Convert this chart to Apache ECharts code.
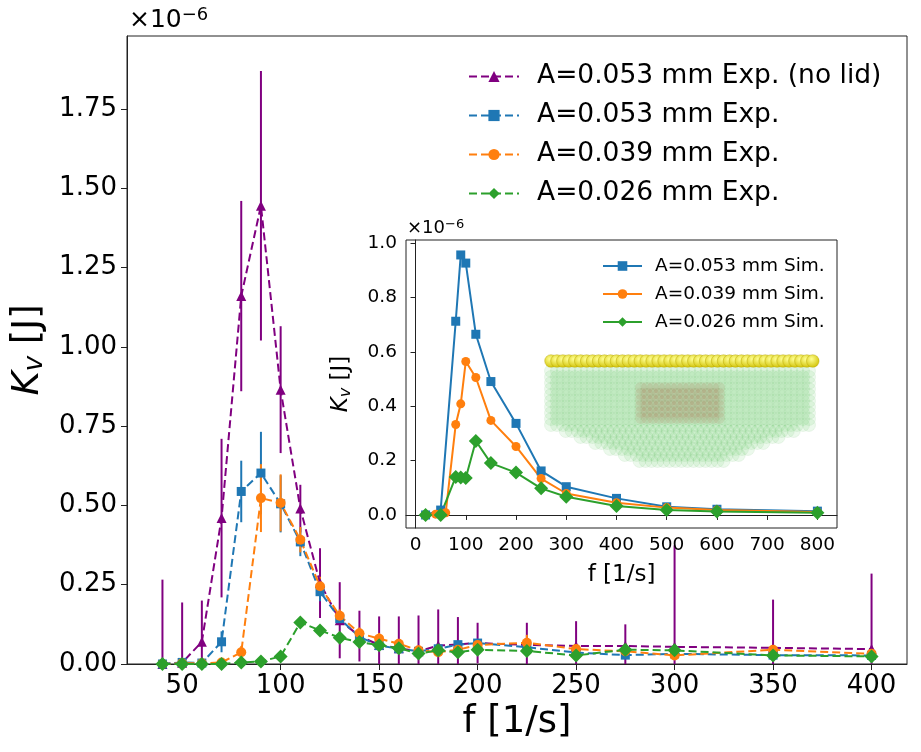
<!DOCTYPE html>
<html>
<head>
<meta charset="utf-8">
<script src="https://cdn.jsdelivr.net/npm/echarts@6/dist/echarts.min.js"></script>
<style>
  html, body { margin: 0; padding: 0; background: #fff; }
  #chart { width: 921px; height: 752px; }
</style>
</head>
<body>
<div id="chart"></div>
<script>
// all energies are in units of 1e-6 J
var freqExp = [40, 50, 60, 70, 80, 90, 100, 110, 120, 130, 140, 150, 160, 170, 180, 190, 200, 225, 250, 275, 300, 350, 400];

var noLidVal = [0, 0.004, 0.07, 0.46, 1.16, 1.445, 0.865, 0.49, 0.255, 0.138, 0.088, 0.06, 0.05, 0.04, 0.058, 0.062, 0.066, 0.06, 0.057, 0.057, 0.054, 0.051, 0.047];
var noLidErr = [0.266, 0.19, 0.13, 0.25, 0.3, 0.425, 0.2, 0.075, 0.11, 0.12, 0.08, 0.09, 0.1, 0.113, 0.114, 0.086, 0.064, 0.07, 0.078, 0.068, 0.32, 0.152, 0.238];

var exp053Val = [0, 0.005, 0.003, 0.07, 0.544, 0.602, 0.505, 0.385, 0.228, 0.143, 0.085, 0.058, 0.048, 0.04, 0.048, 0.061, 0.066, 0.053, 0.036, 0.028, 0.032, 0.028, 0.027];
var exp053Err = [0.004, 0.004, 0.004, 0.033, 0.097, 0.13, 0.09, 0.045, 0.03, 0.02, 0.015, 0.015, 0.012, 0.012, 0.012, 0.012, 0.012, 0.012, 0.01, 0.01, 0.01, 0.01, 0.01];

var exp039Val = [0, 0.002, 0.002, 0.005, 0.037, 0.523, 0.508, 0.392, 0.245, 0.152, 0.097, 0.08, 0.064, 0.043, 0.037, 0.045, 0.06, 0.067, 0.047, 0.04, 0.027, 0.045, 0.032];
var exp039Err = [0.003, 0.003, 0.003, 0.005, 0.02, 0.107, 0.09, 0.04, 0.03, 0.02, 0.018, 0.018, 0.015, 0.015, 0.015, 0.015, 0.015, 0.025, 0.015, 0.012, 0.012, 0.012, 0.012];

var exp026Val = [0, 0, 0, 0, 0.005, 0.008, 0.024, 0.131, 0.106, 0.083, 0.069, 0.059, 0.05, 0.033, 0.043, 0.037, 0.045, 0.041, 0.027, 0.045, 0.043, 0.027, 0.024];
var exp026Err = [0.003, 0.003, 0.003, 0.003, 0.005, 0.005, 0.008, 0.015, 0.015, 0.015, 0.015, 0.012, 0.012, 0.012, 0.012, 0.012, 0.012, 0.012, 0.01, 0.01, 0.01, 0.01, 0.01];

// inset: simulations
var freqSim053 = [20, 50, 80, 90, 100, 120, 150, 200, 250, 300, 400, 500, 600, 800];
var sim053 = [0, 0.018, 0.713, 0.957, 0.927, 0.665, 0.491, 0.337, 0.162, 0.104, 0.061, 0.03, 0.021, 0.014];
var freqSim039 = [20, 40, 60, 80, 90, 100, 120, 150, 200, 250, 300, 400, 500, 600, 800];
var sim039 = [0, 0.003, 0.008, 0.333, 0.409, 0.565, 0.506, 0.348, 0.252, 0.134, 0.079, 0.045, 0.027, 0.018, 0.011];
var freqSim026 = [20, 50, 80, 90, 100, 120, 150, 200, 250, 300, 400, 500, 600, 800];
var sim026 = [0, 0, 0.14, 0.138, 0.136, 0.272, 0.191, 0.156, 0.098, 0.067, 0.033, 0.018, 0.013, 0.008];

var mainXTicks = [50, 100, 150, 200, 250, 300, 350, 400];
var mainYTicks = [0, 0.25, 0.5, 0.75, 1.0, 1.25, 1.5, 1.75];
var insetXTicks = [0, 100, 200, 300, 400, 500, 600, 700, 800];
var insetYTicks = [0, 0.2, 0.4, 0.6, 0.8, 1.0];

var FONT = 'DejaVu Sans';
var PURPLE = '#800080', BLUE = '#1f77b4', ORANGE = '#ff7f0e', GREEN = '#2ca02c';

function pairs(xs, ys) {
  return xs.map(function (x, i) { return [x, ys[i]]; });
}

// vertical error bars drawn through the axes' own coordinates
function errorBars(color, xs, ys, es) {
  return {
    type: 'custom',
    name: 'err',
    xAxisIndex: 0,
    yAxisIndex: 0,
    clip: true,
    z: 2,
    data: xs.map(function (x, i) { return [x, ys[i], es[i]]; }),
    encode: { x: 0, y: 1 },
    renderItem: function (params, api) {
      var lo = api.coord([api.value(0), api.value(1) - api.value(2)]);
      var hi = api.coord([api.value(0), api.value(1) + api.value(2)]);
      return {
        type: 'line',
        shape: { x1: lo[0], y1: lo[1], x2: hi[0], y2: hi[1] },
        style: { stroke: color, lineWidth: 2 }
      };
    }
  };
}

function expLine(name, color, symbol, size, ys) {
  return {
    type: 'line',
    name: name,
    xAxisIndex: 0,
    yAxisIndex: 0,
    data: pairs(freqExp, ys),
    symbol: symbol,
    symbolSize: size,
    z: 3,
    lineStyle: { color: color, width: 2, type: [8, 4] },
    itemStyle: { color: color }
  };
}

function simLine(name, color, symbol, size, xs, ys) {
  return {
    type: 'line',
    name: name,
    xAxisIndex: 1,
    yAxisIndex: 1,
    data: pairs(xs, ys),
    symbol: symbol,
    symbolSize: size,
    z: 6,
    lineStyle: { color: color, width: 2 },
    itemStyle: { color: color }
  };
}

// the little atom picture inside the inset
function atomPicture() {
  var els = [];
  var i, x, y;
  // green substrate, rectangular part then the tapered bottom
  for (y = 371; y <= 462; y += 6) {
    var xl = 551, xr = 813;
    if (y > 425) {
      var t = (y - 425) / 37;
      xl = 551 + t * 91;
      xr = 813 - t * 91;
    }
    for (x = xl; x <= xr; x += 6) {
      els.push({ type: 'circle', shape: { cx: x, cy: y, r: 6.5 }, style: { fill: 'rgba(120,210,120,0.14)', stroke: 'rgba(90,170,90,0.12)', lineWidth: 0.8 }, z: 7 });
    }
  }
  // brownish block
  for (y = 388; y <= 420; y += 6) {
    for (x = 641; x <= 723; x += 6) {
      els.push({ type: 'circle', shape: { cx: x, cy: y, r: 6 }, style: { fill: 'rgba(160,110,70,0.13)' }, z: 7 });
    }
  }
  // yellow top row
  for (i = 0; i < 45; i++) {
    els.push({
      type: 'circle',
      shape: { cx: 551 + i * 5.95, cy: 361, r: 6.3 },
      style: {
        fill: { type: 'radial', x: 0.4, y: 0.35, r: 0.7, colorStops: [{ offset: 0, color: '#ffff90' }, { offset: 1, color: '#cfc000' }] },
        stroke: '#b0a000', lineWidth: 0.4
      },
      z: 8
    });
  }
  return els;
}

var chart = echarts.init(document.getElementById('chart'));

var option = {
  animation: false,
  backgroundColor: '#fff',
  textStyle: { fontFamily: FONT },
  grid: [
    { left: 127, right: 14, top: 36, bottom: 88, show: true, backgroundColor: '#fff', borderColor: '#222', borderWidth: 1, z: 0 },
    { left: 406, top: 240, width: 431, height: 288, show: true, backgroundColor: '#fff', borderColor: '#222', borderWidth: 1, z: 4 }
  ],
  xAxis: [
    {
      type: 'value', gridIndex: 0, min: 22, max: 418,
      name: 'f [1/s]', nameLocation: 'middle', nameGap: 38,
      nameTextStyle: { fontSize: 37, color: '#000', fontFamily: FONT },
      axisLine: { show: true, lineStyle: { color: '#222' } },
      axisTick: { show: true, length: 6, customValues: mainXTicks, lineStyle: { color: '#222' } },
      axisLabel: { customValues: mainXTicks, fontSize: 26, color: '#000', margin: 9, fontFamily: FONT },
      splitLine: { show: false }
    },
    {
      type: 'value', gridIndex: 1, min: -19, max: 839, z: 5,
      name: 'f [1/s]', nameLocation: 'middle', nameGap: 36,
      nameTextStyle: { fontSize: 23, color: '#000', fontFamily: FONT },
      axisLine: { show: true, lineStyle: { color: '#222' } },
      axisTick: { show: true, length: 5, customValues: insetXTicks, lineStyle: { color: '#222' } },
      axisLabel: { customValues: insetXTicks, fontSize: 18.5, color: '#000', margin: 8, fontFamily: FONT },
      splitLine: { show: false }
    }
  ],
  yAxis: [
    {
      type: 'value', gridIndex: 0, min: 0, max: 1.98,
      name: '{k|K}{s|v} [J]', nameLocation: 'middle', nameGap: 78, nameRotate: 90,
      nameTextStyle: {
        fontSize: 37, color: '#000', fontFamily: FONT,
        rich: {
          k: { fontSize: 37, fontStyle: 'italic', fontFamily: FONT, color: '#000' },
          s: { fontSize: 26, fontStyle: 'italic', fontFamily: FONT, color: '#000', verticalAlign: 'bottom', padding: [14, 0, 0, 0] }
        }
      },
      axisLine: { show: true, lineStyle: { color: '#222' } },
      axisTick: { show: true, length: 6, customValues: mainYTicks, lineStyle: { color: '#222' } },
      axisLabel: {
        customValues: mainYTicks, fontSize: 26, color: '#000', margin: 10, fontFamily: FONT,
        formatter: function (v) { return v.toFixed(2); }
      },
      splitLine: { show: false }
    },
    {
      type: 'value', gridIndex: 1, min: -0.048, max: 1.012, z: 5,
      name: '{k|K}{s|v} [J]', nameLocation: 'middle', nameGap: 52, nameRotate: 90,
      nameTextStyle: {
        fontSize: 23, color: '#000', fontFamily: FONT,
        rich: {
          k: { fontSize: 23, fontStyle: 'italic', fontFamily: FONT, color: '#000' },
          s: { fontSize: 16, fontStyle: 'italic', fontFamily: FONT, color: '#000', verticalAlign: 'bottom', padding: [9, 0, 0, 0] }
        }
      },
      axisLine: { show: true, lineStyle: { color: '#222' } },
      axisTick: { show: true, length: 5, customValues: insetYTicks, lineStyle: { color: '#222' } },
      axisLabel: {
        customValues: insetYTicks, fontSize: 18.5, color: '#000', margin: 9, fontFamily: FONT,
        formatter: function (v) { return v.toFixed(1); }
      },
      splitLine: { show: false }
    }
  ],
  legend: [
    {
      data: ['A=0.053 mm Exp. (no lid)', 'A=0.053 mm Exp.', 'A=0.039 mm Exp.', 'A=0.026 mm Exp.'],
      orient: 'vertical', left: 463, top: 58,
      itemWidth: 50, itemHeight: 14, itemGap: 12,
      textStyle: { fontSize: 26.5, lineHeight: 27, color: '#000', fontFamily: FONT, padding: [0, 0, 0, 13] }
    },
    {
      data: ['A=0.053 mm Sim.', 'A=0.039 mm Sim.', 'A=0.026 mm Sim.'],
      orient: 'vertical', left: 597, top: 251, z: 8,
      itemWidth: 39, itemHeight: 12, itemGap: 8,
      textStyle: { fontSize: 18.5, lineHeight: 20, color: '#000', fontFamily: FONT, padding: [0, 0, 0, 8] }
    }
  ],
  graphic: [
    {
      type: 'text', left: 129, top: 6, z: 10,
      style: {
        text: '×10{s|−6}', fill: '#000', font: '25px "DejaVu Sans"',
        rich: { s: { fontSize: 18, fontFamily: FONT, fill: '#000', verticalAlign: 'top', padding: [0, 0, 10, 0] } }
      }
    },
    {
      type: 'text', left: 407, top: 218, z: 10,
      style: {
        text: '×10{s|−6}', fill: '#000', font: '18px "DejaVu Sans"',
        rich: { s: { fontSize: 13, fontFamily: FONT, fill: '#000', verticalAlign: 'top', padding: [0, 0, 7, 0] } }
      }
    },
    { type: 'group', z: 7, children: atomPicture() }
  ],
  series: [
    errorBars(PURPLE, freqExp, noLidVal, noLidErr),
    expLine('A=0.053 mm Exp. (no lid)', PURPLE, 'triangle', 10, noLidVal),
    errorBars(BLUE, freqExp, exp053Val, exp053Err),
    expLine('A=0.053 mm Exp.', BLUE, 'rect', 9, exp053Val),
    errorBars(ORANGE, freqExp, exp039Val, exp039Err),
    expLine('A=0.039 mm Exp.', ORANGE, 'circle', 10, exp039Val),
    errorBars(GREEN, freqExp, exp026Val, exp026Err),
    expLine('A=0.026 mm Exp.', GREEN, 'diamond', 14, exp026Val),
    simLine('A=0.053 mm Sim.', BLUE, 'rect', 9, freqSim053, sim053),
    simLine('A=0.039 mm Sim.', ORANGE, 'circle', 9, freqSim039, sim039),
    simLine('A=0.026 mm Sim.', GREEN, 'diamond', 14, freqSim026, sim026)
  ]
};

chart.setOption(option);
</script>
</body>
</html>
